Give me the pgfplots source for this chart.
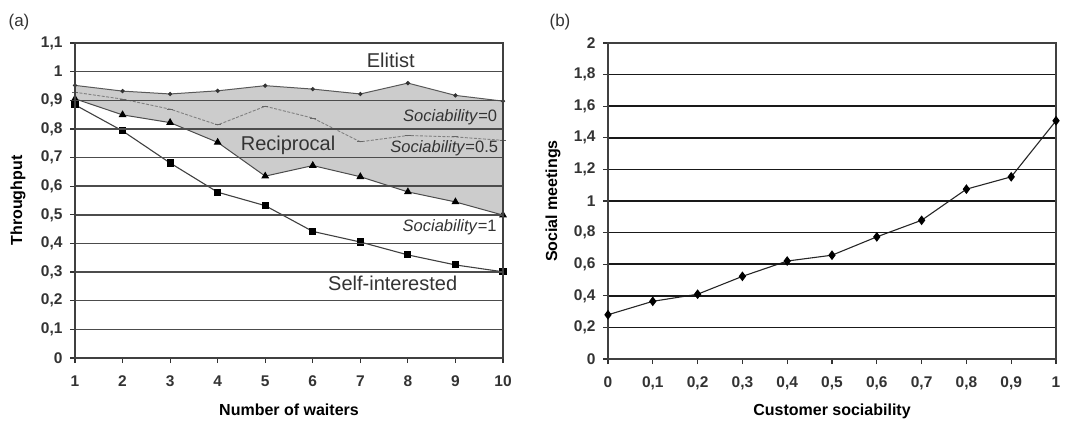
\documentclass[border=0pt]{standalone}
\usepackage{fontspec}
\setmainfont{Liberation Sans}
\usepackage{pgfplots}
\pgfplotsset{compat=1.18}
\usepgfplotslibrary{fillbetween}
\definecolor{txt}{HTML}{333333}
\begin{document}
\begin{tikzpicture}
\pgfplotsset{
 every axis/.append style={
  scale only axis,
  font=\fontsize{15.5}{18}\selectfont\bfseries,
  /pgf/number format/assume math mode=true,
  /pgf/number format/use comma,
  /pgf/number format/fixed,
  tick align=outside, xtick pos=bottom, ytick pos=left,
  major tick length=5pt,
  tick style={black!80, line width=1.2pt},
  ymajorgrids,
  axis on top,
  label style={font=\fontsize{16}{19}\selectfont\bfseries},
  ticklabel style={text=txt},
  xticklabel style={yshift=-9pt},
  yticklabel style={xshift=-4pt},
 }
}
\begin{axis}[at={(75pt,-358pt)}, anchor=south west, width=428pt, height=315pt,
  xmin=1, xmax=10, ymin=0, ymax=1.1,
  xtick={1,2,3,4,5,6,7,8,9,10},
  ytick={0,0.1,0.2,0.3,0.4,0.5,0.6,0.7,0.8,0.9,1,1.1},
  grid style={line width=1.5pt, black!70},
  axis line style={line width=1.3pt, black!75},
  xlabel={Number of waiters}, ylabel={Throughput},
  xlabel style={at={(axis description cs:0.5,-0.165)}, anchor=center},
  ylabel style={at={(axis description cs:-0.133,0.5)}, anchor=center},
]
\addplot[name path=E, draw=none, forget plot] coordinates {(1,0.952) (2,0.932) (3,0.922) (4,0.933) (5,0.951) (6,0.939) (7,0.922) (8,0.960) (9,0.917) (10,0.897)};
\addplot[name path=S, draw=none, forget plot] coordinates {(1,0.905) (2,0.849) (3,0.822) (4,0.753) (5,0.635) (6,0.672) (7,0.633) (8,0.580) (9,0.545) (10,0.499)};
\addplot[fill=gray!40, draw=none, forget plot] fill between[of=E and S];
% Elitist, Sociability = 0
\addplot[color=black!65, line width=1pt, mark=*, mark size=1.6pt, mark options={fill=black!80, draw=black!80}] coordinates {(1,0.952) (2,0.932) (3,0.922) (4,0.933) (5,0.951) (6,0.939) (7,0.922) (8,0.960) (9,0.917) (10,0.897)};
% Sociability = 0.5
\addplot[color=black!50, line width=0.9pt, dash pattern=on 3pt off 1.5pt, mark=-, mark size=3pt, mark options={solid, black!60, line width=1pt}] coordinates {(1,0.928) (2,0.904) (3,0.869) (4,0.814) (5,0.879) (6,0.838) (7,0.755) (8,0.777) (9,0.772) (10,0.760)};
% Sociability = 1
\addplot[color=black!70, line width=1pt, mark=triangle*, mark size=3.6pt, mark options={fill=black, draw=black}] coordinates {(1,0.905) (2,0.849) (3,0.822) (4,0.753) (5,0.635) (6,0.672) (7,0.633) (8,0.580) (9,0.545) (10,0.499)};
% Self-interested
\addplot[color=black!75, line width=1.1pt, mark=square*, mark size=3pt, mark options={fill=black, draw=black}] coordinates {(1,0.884) (2,0.793) (3,0.681) (4,0.579) (5,0.532) (6,0.442) (7,0.405) (8,0.360) (9,0.325) (10,0.301)};
\node[font=\fontsize{20}{24}\selectfont, text=txt] at (axis cs:7.64,1.04) {Elitist};
\node[font=\fontsize{20}{24}\selectfont, text=txt] at (axis cs:5.48,0.742) {Reciprocal};
\node[font=\fontsize{20}{24}\selectfont, text=txt] at (axis cs:7.68,0.262) {Self-interested};
\node[font=\fontsize{16.5}{20}\selectfont, text=txt, anchor=east, inner sep=0pt] at (axis cs:9.88,0.842) {\textit{Sociability}=0};
\node[font=\fontsize{16.5}{20}\selectfont, text=txt, anchor=east, inner sep=0pt] at (axis cs:9.9,0.733) {\textit{Sociability}=0.5};
\node[font=\fontsize{16.5}{20}\selectfont, text=txt, anchor=east, inner sep=0pt] at (axis cs:9.87,0.458) {\textit{Sociability}=1};
\end{axis}
\begin{axis}[at={(608pt,-359pt)}, anchor=south west, width=448pt, height=316pt,
  xmin=0, xmax=1, ymin=0, ymax=2,
  xtick={0,0.1,0.2,0.3,0.4,0.5,0.6,0.7,0.8,0.9,1},
  ytick={0,0.2,0.4,0.6,0.8,1,1.2,1.4,1.6,1.8,2},
  grid style={line width=1.5pt, black!90},
  axis line style={line width=1.3pt, black!75},
  xlabel={Customer sociability}, ylabel={Social meetings},
  xlabel style={at={(axis description cs:0.5,-0.165)}, anchor=center},
  ylabel style={at={(axis description cs:-0.123,0.5)}, anchor=center},
]
\addplot[color=black!85, line width=1.1pt, mark=diamond*, mark size=4pt, mark options={fill=black, draw=black}] coordinates {(0,0.28) (0.1,0.365) (0.2,0.41) (0.3,0.523) (0.4,0.62) (0.5,0.657) (0.6,0.773) (0.7,0.878) (0.8,1.075) (0.9,1.153) (1,1.508)};
\end{axis}
\node[font=\fontsize{17}{20}\selectfont, text=txt] at (19pt,-22pt) {(a)};
\node[font=\fontsize{17}{20}\selectfont, text=txt] at (560pt,-22pt) {(b)};
\path[use as bounding box] (0pt,0pt) rectangle (1082pt,-421pt);
\end{tikzpicture}
\end{document}
